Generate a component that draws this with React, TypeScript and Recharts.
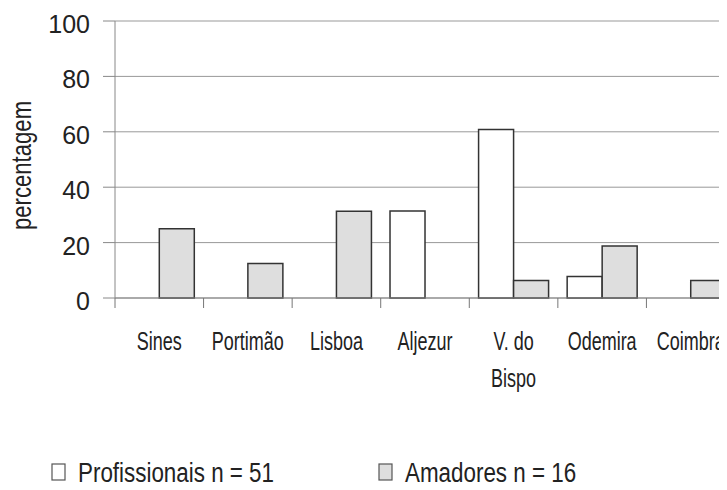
import React from 'react'
import { BarChart, Bar, XAxis, YAxis, CartesianGrid, Legend, Label } from 'recharts'

// categories and values (percentages)
const CATEGORIES = ['Sines', 'Portimão', 'Lisboa', 'Aljezur', 'V. do\nBispo', 'Odemira', 'Coimbra']
const PROFISSIONAIS = [0, 0, 0, 31.4, 60.8, 7.8, 0]
const AMADORES = [25, 12.5, 31.3, 0, 6.3, 18.8, 6.3]
const Y_TICKS = [0, 20, 40, 60, 80, 100]

const SERIES = [
  { key: 'profissionais', label: 'Profissionais n = 51', fill: '#ffffff' },
  { key: 'amadores', label: 'Amadores n = 16', fill: '#dedede' },
]

const data = CATEGORIES.map((name, i) => ({
  name,
  profissionais: PROFISSIONAIS[i],
  amadores: AMADORES[i],
}))

// no narrow font installed, so squeeze Liberation Sans horizontally
const SANS = '"Liberation Sans", Arial, sans-serif'
const INK = '#222'

function CategoryTick(props: any) {
  const { x, y, payload } = props
  const lines = String(payload.value).split('\n')
  const edge = x - (payload.offset ?? 0)
  return (
    <g>
      <line x1={edge} y1={y} x2={edge} y2={y + 10} stroke="#777" />
      <g transform={`translate(${x} ${y + 52}) scale(0.72 1)`}>
        <text x={0} y={0} textAnchor="middle" fontFamily={SANS} fontSize={25} fill={INK}>
          {lines.map((l, i) => (
            <tspan key={i} x={0} dy={i === 0 ? 0 : 37}>
              {l}
            </tspan>
          ))}
        </text>
      </g>
    </g>
  )
}

function ValueTick({ x, y, payload }: any) {
  return (
    <text x={x} y={y + 12} textAnchor="end" fontFamily={SANS} fontSize={25} fill={INK}>
      {payload.value}
    </text>
  )
}

function AxisTitle({ viewBox }: any) {
  const cx = viewBox.x + 23
  const cy = viewBox.y + viewBox.height / 2 + 6
  return (
    <g transform={`translate(${cx} ${cy}) rotate(-90) scale(0.82 1)`}>
      <text x={0} y={0} textAnchor="middle" fontFamily={SANS} fontSize={27} fill={INK}>
        percentagem
      </text>
    </g>
  )
}

function LegendBox() {
  const squares = [44, 371]
  return (
    <svg width={719} height={48} style={{ display: 'block' }}>
      {SERIES.map((s, i) => (
        <g key={s.key}>
          <rect x={squares[i]} y={22} width={13} height={16} fill={s.fill} stroke="#555" strokeWidth={1.2} />
          <g transform={`translate(${squares[i] + 26} 40) scale(0.8 1)`}>
            <text x={0} y={0} fontFamily={SANS} fontSize={28} fill={INK}>
              {s.label}
            </text>
          </g>
        </g>
      ))}
    </svg>
  )
}

export default function App() {
  return (
    <div style={{ width: 719, height: 482, overflow: 'hidden', position: 'relative' }}>
      <BarChart
        width={740}
        height={482}
        data={data}
        margin={{ top: 13, right: 13, left: 0, bottom: 0 }}
        barCategoryGap="10.5%"
        barGap={0}
      >
        <CartesianGrid vertical={false} stroke="#999" />
        <XAxis
          dataKey="name"
          height={144}
          interval={0}
          tickLine={false}
          tickSize={0}
          tickMargin={0}
          axisLine={{ stroke: '#888' }}
          tick={<CategoryTick />}
        />
        <YAxis
          domain={[0, 100]}
          ticks={Y_TICKS}
          width={107}
          tickSize={12}
          tickMargin={13}
          tickLine={{ stroke: '#888' }}
          axisLine={{ stroke: '#888' }}
          tick={<ValueTick />}
        >
          <Label content={<AxisTitle />} />
        </YAxis>
        <Legend
          verticalAlign="bottom"
          wrapperStyle={{ left: 0, width: 719, height: 48 }}
          content={() => <LegendBox />}
        />
        {SERIES.map((s) => (
          <Bar
            key={s.key}
            dataKey={s.key}
            name={s.label}
            fill={s.fill}
            stroke="#333"
            strokeWidth={1.5}
            isAnimationActive={false}
          />
        ))}
      </BarChart>
    </div>
  )
}
